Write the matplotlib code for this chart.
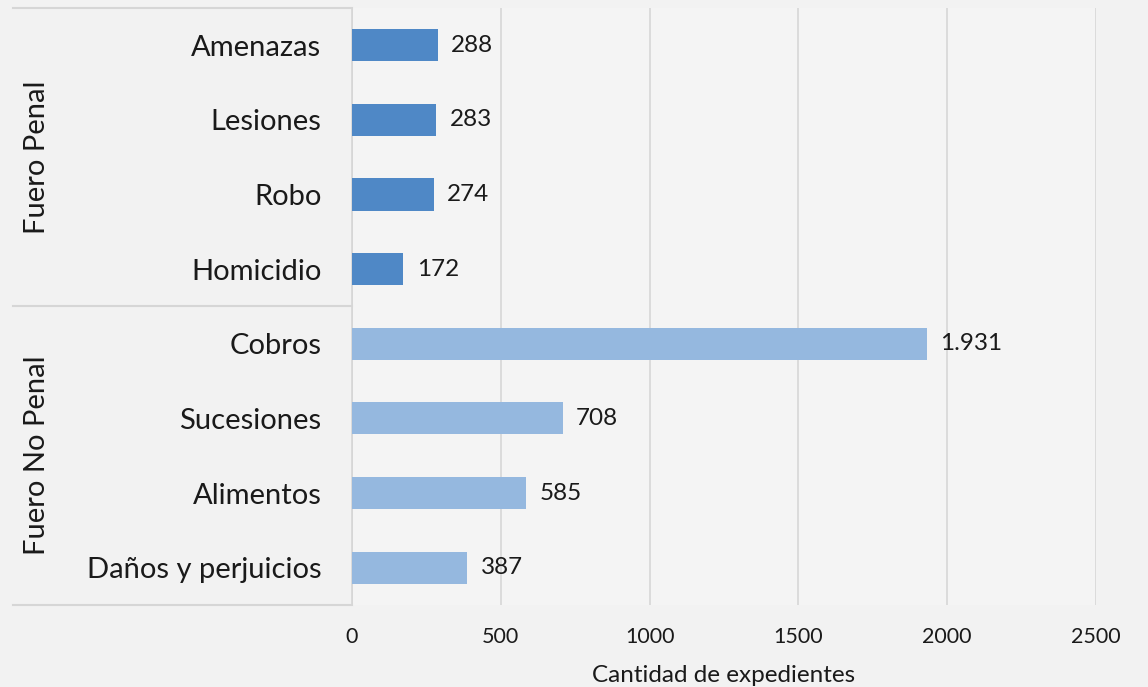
import matplotlib.pyplot as plt
from matplotlib.transforms import blended_transform_factory

plt.rcParams['font.family'] = ['Lato', 'DejaVu Sans']

# data (top to bottom)
categories = ['Amenazas', 'Lesiones', 'Robo', 'Homicidio',
              'Cobros', 'Sucesiones', 'Alimentos', 'Daños y perjuicios']
values = [288, 283, 274, 172, 1931, 708, 585, 387]
groups = ['Fuero Penal'] * 4 + ['Fuero No Penal'] * 4
group_names = ['Fuero Penal', 'Fuero No Penal']
xticks = [0, 500, 1000, 1500, 2000, 2500]

col_penal = '#4F88C6'
col_nopenal = '#95B8DF'
grid_col = '#D6D6D6'

fig = plt.figure(figsize=(11.48, 6.87), dpi=100, facecolor='#F2F2F2')
ax = fig.add_axes([0.3066, 0.1194, 0.6481, 0.869])
ax.set_facecolor('#F4F4F4')

n = len(categories)
ypos = list(range(n))
colors = [col_penal if g == 'Fuero Penal' else col_nopenal for g in groups]
ax.barh(ypos, values, height=0.43, color=colors, zorder=3)
ax.set_ylim(n - 0.5, -0.5)
ax.set_xlim(0, 2500)

for y, v in zip(ypos, values):
    ax.text(v + 45, y, f'{v:,}'.replace(',', '.'), va='center', ha='left',
            fontsize=17.5, color='#1a1a1a', zorder=4)

ax.set_yticks(ypos)
ax.set_yticklabels(categories, fontsize=21, color='#1a1a1a')
ax.tick_params(axis='y', length=0, pad=22)
ax.set_xticks(xticks)
ax.set_xticklabels([str(t) for t in xticks], fontsize=15.5, color='#1a1a1a')
ax.tick_params(axis='x', length=0, pad=16)
ax.xaxis.grid(True, color=grid_col, linewidth=1.2, zorder=0)
ax.set_axisbelow(True)
for s in ['top', 'right', 'bottom']:
    ax.spines[s].set_visible(False)
ax.spines['left'].set_color(grid_col)
ax.spines['left'].set_linewidth(1.2)

ax.set_xlabel('Cantidad de expedientes', fontsize=17.5, color='#1a1a1a', labelpad=13)

# group separators and labels
xl = -0.4556
for yy in [-0.5, 3.5, n - 0.5]:
    ax.plot([xl, 0], [yy, yy], color=grid_col, lw=1.5,
            transform=blended_transform_factory(ax.transAxes, ax.transData),
            clip_on=False)
tr = blended_transform_factory(fig.transFigure, ax.transData)
for i, g in enumerate(group_names):
    ax.text(37 / 1148, 1.5 + 4 * i, g, rotation=90, ha='center', va='center',
            fontsize=21, color='#1a1a1a', transform=tr)

plt.savefig('out.png', dpi=100, facecolor=fig.get_facecolor())
